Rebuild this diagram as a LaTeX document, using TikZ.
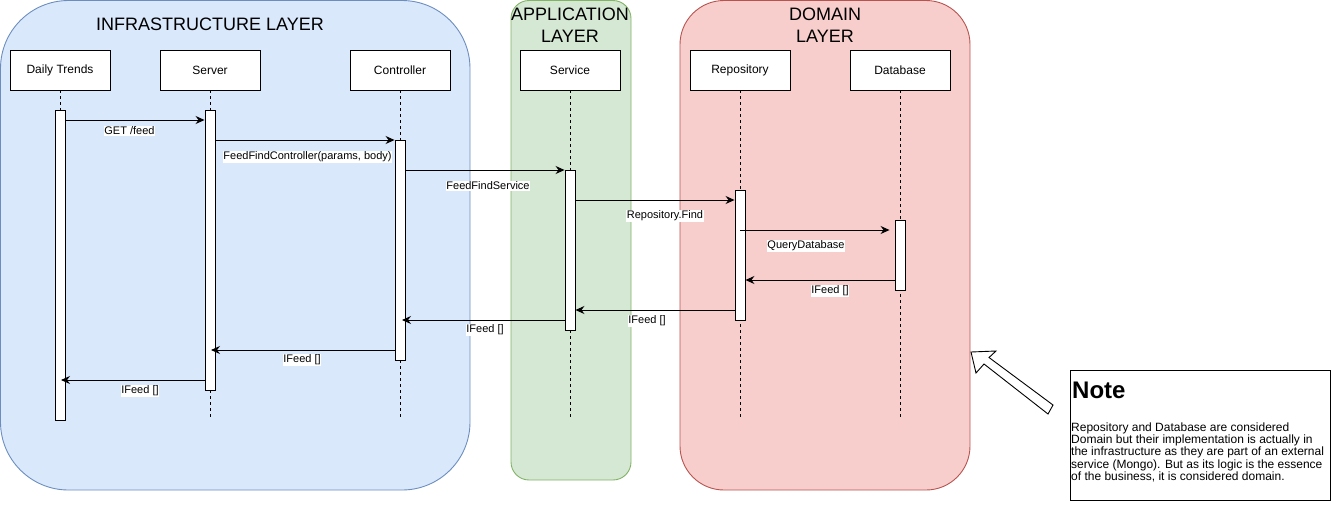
\documentclass[tikz,border=0pt]{standalone}
\usepackage{fontspec}
\setmainfont{Liberation Sans}
\usetikzlibrary{arrows.meta,calc}
\definecolor{infraF}{HTML}{DAE8FC}\definecolor{infraS}{HTML}{6C8EBF}
\definecolor{appF}{HTML}{D5E8D4}\definecolor{appS}{HTML}{82B366}
\definecolor{domF}{HTML}{F8CECC}\definecolor{domS}{HTML}{B85450}
\begin{document}
\begin{tikzpicture}[x=1pt,y=-1pt,
  layer/.style={line width=0.9pt},
  ltitle/.style={font=\fontsize{18}{22}\selectfont, align=center, inner sep=0},
  head/.style={draw, fill=white, line width=0.9pt, minimum width=100pt, minimum height=40pt, inner sep=0, font=\fontsize{12}{14}\selectfont},
  bar/.style={draw, fill=white, line width=0.9pt, minimum width=10pt, inner sep=0, anchor=north},
  life/.style={line width=0.8pt, dash pattern=on 3pt off 3pt},
  msg/.style={line width=0.9pt, -{Stealth[length=9pt,width=8pt,inset=3pt]}},
  lbl/.style={fill=white, inner sep=0.6pt, font=\fontsize{11}{13}\selectfont}
]
\useasboundingbox (0,0) rectangle (1331,504);
% layers
\draw[layer, draw=infraS, fill=infraF, rounded corners=68pt] (0.5,0.5) rectangle (470,490);
\draw[layer, draw=appS, fill=appF, rounded corners=18pt] (511,0.5) rectangle (631,480);
\draw[layer, draw=domS, fill=domF, rounded corners=44pt] (680,0.5) rectangle (970,490);
\node[ltitle] (tinfra) at (210,24) {INFRASTRUCTURE LAYER};
\node[ltitle] (tapp) at (570,25) {APPLICATION\\LAYER};
\node[ltitle] (tdom) at (825,25) {DOMAIN\\LAYER};
% heads
\node[head] (dt) at (60,70) {Daily Trends};
\node[head] (srv) at (210,70) {Server};
\node[head] (ctl) at (400,70) {Controller};
\node[head] (svc) at (570,70) {Service};
\node[head] (rep) at (740,70) {Repository};
\node[head] (db) at (900,70) {Database};
% lifelines
\foreach \n in {dt,srv,ctl,svc,rep,db}{\draw[life] (\n.south) -- (\n.south |- 0,420);}
% activation bars
\node[bar, minimum height=310pt] (dtA) at (60,110) {};
\node[bar, minimum height=280pt] (srvA) at (210,110) {};
\node[bar, minimum height=220pt] (ctlA) at (400,140) {};
\node[bar, minimum height=160pt] (svcA) at (570,170) {};
\node[bar, minimum height=130pt] (repA) at (740,190) {};
\node[bar, minimum height=70pt] (dbA) at (900,220) {};
% messages
\draw[msg] (dtA.east |- 0,120) -- (srvA.west |- 0,120);
\draw[msg] (srvA.east |- 0,140) -- (ctlA.west |- 0,140);
\draw[msg] (ctlA.east |- 0,170) -- (svcA.west |- 0,170);
\draw[msg] (svcA.east |- 0,200) -- (repA.west |- 0,200);
\draw[msg] (repA.north |- 0,230) -- ([xshift=-5pt]dbA.west |- 0,230);
\draw[msg] (dbA.west |- 0,280) -- (repA.east |- 0,280);
\draw[msg] (repA.west |- 0,310) -- (svcA.east |- 0,310);
\draw[msg] (svcA.west |- 0,320) -- ([xshift=2pt]ctlA.north |- 0,320);
\draw[msg] (ctlA.west |- 0,350) -- ([xshift=1pt]srvA.north |- 0,350);
\draw[msg] (srvA.west |- 0,380) -- ([xshift=1pt]dtA.north |- 0,380);
% labels
\node[lbl] (l1) at (129.5,131) {GET /feed};
\node[lbl] (l2) at (307.5,157) {FeedFindController(params, body)};
\node[lbl] (l3) at (488,186) {FeedFindService};
\node[lbl] (l4) at (665,216) {Repository.Find};
\node[lbl] (l5) at (806,246) {QueryDatabase};
\node[lbl] (l6) at (830,291) {IFeed []};
\node[lbl] (l7) at (647,321) {IFeed []};
\node[lbl] (l8) at (485,330) {IFeed []};
\node[lbl] (l9) at (302,360) {IFeed []};
\node[lbl] (l10) at (140,391) {IFeed []};
% hollow arrow
\draw[line width=0.9pt, fill=white, line join=miter] (971,352) -- (996,351) -- (989,357.5) -- (1053,405) -- (1048,414) -- (984,364) -- (976,373) -- cycle;
% note
\node[draw, fill=white, line width=0.9pt, minimum width=260pt, minimum height=130pt, inner sep=0, anchor=north west] (note) at (1070,370) {};
\node[anchor=base west, inner sep=0, font=\fontsize{24}{28}\selectfont\bfseries] (notet) at (1072,398) {Note};
\node[anchor=north west, inner sep=0, align=left, font=\fontsize{12}{12.2}\selectfont] (noteb) at (1071,422.5) {Repository and Database are considered\\Domain but their implementation is actually in\\the infrastructure as they are part of an external\\service (Mongo). But as its logic is the essence\\of the business, it is considered domain.};
\end{tikzpicture}
\end{document}
